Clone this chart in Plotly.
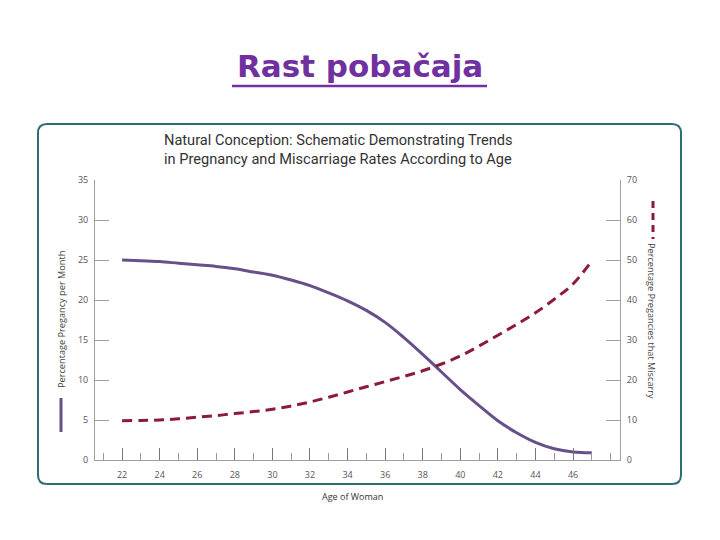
import plotly.graph_objects as go

ages = list(range(22, 48))
pregnancy_rate = [25.0, 24.9, 24.8, 24.6, 24.4, 24.2, 23.9, 23.5, 23.1, 22.5,
                  21.8, 20.9, 19.9, 18.7, 17.2, 15.3, 13.2, 11.0, 8.8, 6.8,
                  4.9, 3.4, 2.2, 1.4, 1.0, 0.9]
miscarriage_rate = [9.8, 9.9, 10.0, 10.3, 10.7, 11.1, 11.6, 12.1, 12.7, 13.5,
                    14.5, 15.7, 17.0, 18.3, 19.6, 20.9, 22.3, 24.0, 26.0, 28.5,
                    31.2, 33.9, 36.8, 40.2, 44.0, 49.8]
x_ticks = list(range(22, 47, 2))
left_ticks = list(range(0, 36, 5))
right_ticks = list(range(0, 71, 10))

W, H = 720, 540
L, R, T, B = 95, 620, 180, 460


def px(x):
    return (x - L) / (R - L)


def py(y):
    return (B - y) / (B - T)


PURPLE = "#67508a"
RED = "#8c1a3c"
GRAY = "#a0a0a0"
TXT = "#555555"

fig = go.Figure()
fig.add_trace(go.Scatter(x=ages, y=pregnancy_rate, mode="lines", line=dict(color=PURPLE, width=3, shape="spline"),
                         showlegend=False, yaxis="y"))
fig.add_trace(go.Scatter(x=ages, y=miscarriage_rate, mode="lines",
                         line=dict(color=RED, width=3, dash="10px,6px", shape="spline"),
                         showlegend=False, yaxis="y2"))

tickfont = dict(family="Open Sans", size=9, color=TXT)
fig.update_layout(
    width=W, height=H,
    margin=dict(l=L, r=W - R, t=T, b=H - B),
    paper_bgcolor="white", plot_bgcolor="white",
    xaxis=dict(range=[20.56, 48.5], tickmode="array", tickvals=x_ticks, ticktext=[str(v) for v in x_ticks],
               ticks="inside", ticklen=12, tickcolor="#777", tickwidth=1,
               minor=dict(dtick=1, tick0=22, ticks="inside", ticklen=7, tickcolor="#999"),
               showline=True, linecolor=GRAY, linewidth=1, showgrid=False, zeroline=False,
               tickfont=tickfont, ticklabelstandoff=6),
    yaxis=dict(range=[0, 35], tickvals=left_ticks, ticks="inside", ticklen=14, tickcolor=GRAY,
               showline=True, linecolor=GRAY, showgrid=False, zeroline=False, tickfont=tickfont,
               ticklabelstandoff=4),
    yaxis2=dict(range=[0, 70], tickvals=right_ticks, overlaying="y", side="right", ticks="inside",
                ticklen=14, tickcolor=GRAY, showline=True, linecolor=GRAY, showgrid=False,
                zeroline=False, tickfont=tickfont, ticklabelstandoff=4),
)

r = 9
x0, x1, y0, y1 = 38, 681, 124, 484
path = (f"M {px(x0 + r)},{py(y0)} L {px(x1 - r)},{py(y0)} Q {px(x1)},{py(y0)} {px(x1)},{py(y0 + r)} "
        f"L {px(x1)},{py(y1 - r)} Q {px(x1)},{py(y1)} {px(x1 - r)},{py(y1)} "
        f"L {px(x0 + r)},{py(y1)} Q {px(x0)},{py(y1)} {px(x0)},{py(y1 - r)} "
        f"L {px(x0)},{py(y0 + r)} Q {px(x0)},{py(y0)} {px(x0 + r)},{py(y0)} Z")
fig.add_shape(type="path", path=path, xref="paper", yref="paper", line=dict(color="#2e6e72", width=2))

# title underline
fig.add_shape(type="line", xref="paper", yref="paper", x0=px(232), x1=px(487), y0=py(86), y1=py(86),
              line=dict(color="#7030a0", width=2.5))
# legend marks
fig.add_shape(type="line", xref="paper", yref="paper", x0=px(61), x1=px(61), y0=py(398), y1=py(432),
              line=dict(color=PURPLE, width=3))
fig.add_shape(type="line", xref="paper", yref="paper", x0=px(653), x1=px(653), y0=py(201), y1=py(239),
              line=dict(color=RED, width=3, dash="7px,5px"))

fig.add_annotation(text="Rast pobačaja", xref="paper", yref="paper", x=px(360), y=py(66),
                   xanchor="center", yanchor="middle",
                   showarrow=False, font=dict(family="DejaVu Sans", size=31, color="#7030a0", weight="bold"))
fig.add_annotation(text="Natural Conception: Schematic Demonstrating Trends<br>in Pregnancy and Miscarriage Rates According to Age",
                   xref="paper", yref="paper", x=px(162), y=py(149), xanchor="left", yanchor="middle",
                   align="left", showarrow=False, font=dict(family="Roboto", size=14.6, color="#333333"))
fig.add_annotation(text="Age of Woman", xref="paper", yref="paper", x=px(352), y=py(496),
                   xanchor="center", yanchor="middle",
                   showarrow=False, font=dict(family="Open Sans", size=9, color="#333333"))
fig.add_annotation(text="Percentage Pregancy per Month", xref="paper", yref="paper", x=px(61), y=py(320),
                   xanchor="center", yanchor="middle",
                   textangle=-90, showarrow=False, font=dict(family="Open Sans", size=9.2, color="#444444"))
fig.add_annotation(text="Percentage Pregancies that Miscarry", xref="paper", yref="paper", x=px(652), y=py(321),
                   xanchor="center", yanchor="middle",
                   textangle=90, showarrow=False, font=dict(family="Open Sans", size=9.2, color="#444444"))

fig.write_html("out.html", post_script="document.body.style.margin='0';",
               config={"displayModeBar": False})
